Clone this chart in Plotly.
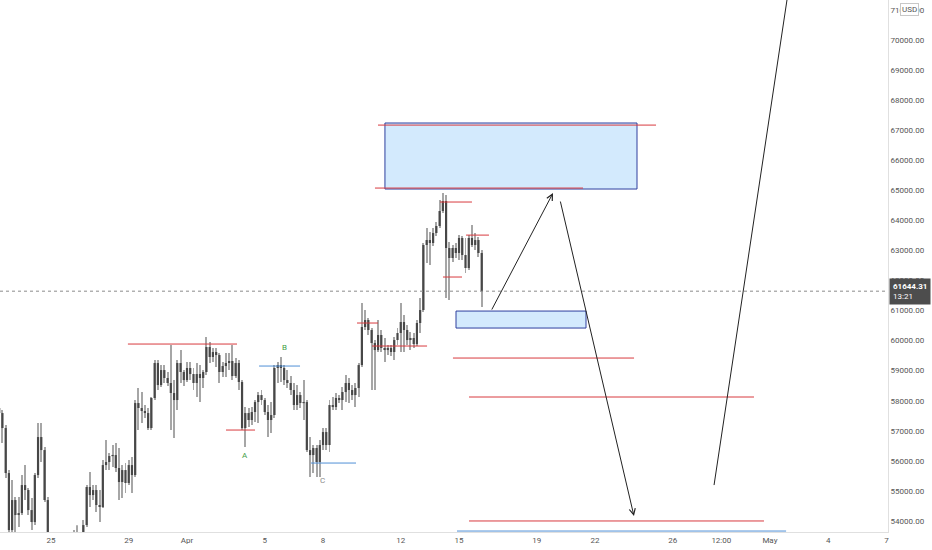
import plotly.graph_objects as go
import pandas as pd

# ---- 4h candles, BTCUSD, from 2021-03-22 08:00 ----
start_time = "2021-03-22 08:00"
opens = [57757,57590,57091,55594,53698,54696,54197,54263,55195,55029,54363,53964,55528,56792,56359,54696,
         53032,52600,52000,51500,51000,51800,52500,52900,53200,53000,53300,
         53864,55129,54862,55029,54530,54463,55860,55960,56160,56193,55761,55295,55694,55262,55860,55528,
         57923,57757,57657,57590,57091,58090,59254,58522,59021,58755,58589,58256,58023,59254,58955,58688,
         59088,58888,58589,58888,58755,58955,59786,59454,59620,59520,58955,59154,59254,59321,58821,59254,
         58622,57091,57590,57358,57624,57956,58189,58023,57624,57358,57524,59088,59187,59088,58688,58589,
         58356,57857,58189,57923,57956,56359,56193,56426,55960,56526,56958,56526,57857,57790,58090,58023,
         58289,58589,58356,58189,58422,59187,60452,60685,60352,59919,59686,60186,59753,59686,59753,59620,
         60019,60252,60618,60352,60019,60086,59886,60585,61017,63180,63346,63246,63579,63812,64311,64644,
         63080,62747,63080,62914,63413,62847,62415,63413,63180,63346,62914]
highs = [57923,57690,57191,55694,55361,54796,54796,55528,55860,55095,54763,55594,57258,57258,56459,54796,
         53300,52900,52300,51800,52000,52700,53100,53700,53860,53500,54030,
         55195,55628,55195,55195,55029,56027,56692,56260,56526,56592,56426,55860,55927,56027,56127,58023,
         58422,58289,57857,57757,58123,59354,59354,59187,59187,58955,59853,58688,59354,59686,59021,59287,
         59287,59088,59254,59187,59021,60119,59953,59753,59753,59587,59287,59587,59587,59853,59420,59354,
         58688,57790,57757,57790,58023,58289,58356,58090,57857,57956,59187,59287,59454,59187,59021,58821,
         58589,58522,58289,58688,58023,56792,56526,56526,56692,57091,57091,58023,58123,58256,58189,58456,
         58855,58755,58522,58589,59254,61250,61017,60751,60418,60019,60685,60352,60086,59853,59853,60119,
         60418,61250,60851,60518,60285,60252,60685,61417,63246,63745,63612,63745,63945,64677,64910,64843,
         63280,63180,63246,63513,63479,63413,63513,63845,63579,63446,63013]
lows = [57524,56592,55428,53598,53598,53598,53798,54197,54696,54197,53698,53864,55428,55960,54629,52700,
        52400,51800,51200,50400,50800,51500,52200,52600,52900,52700,53100,
        53798,54463,54696,54297,53964,54430,55694,55694,55794,55628,54696,54763,54929,55195,54929,55461,
        57025,57258,57424,57025,57025,58023,58356,58456,58589,58489,57025,56758,57690,58589,58489,58622,
        58688,58356,58123,57956,58422,58855,59254,59287,59121,58589,58788,58788,59021,58688,58755,58356,
        57025,56459,57125,57191,57291,57258,57857,57524,56792,56925,57424,58589,58622,58522,58422,58189,
        57690,57690,57757,57358,56293,55461,55594,55461,55461,56359,56359,56293,57690,57690,57923,57690,
        57956,57923,58023,57790,58123,59121,60352,60186,58356,58356,59620,59620,59287,59520,59487,59354,
        59853,59620,59620,59853,59686,59753,59820,60252,60951,62581,62514,63147,63479,63745,64244,61417,
        61350,62614,62747,62681,62681,62248,62348,63113,63013,62781,61117]
closes = [57590,57091,55594,53698,54696,54197,54263,55195,55029,54363,53964,55528,56792,56359,54696,53032,
          52600,52000,51500,51000,51800,52500,52900,53200,53000,53300,53864,
          55129,54862,55029,54530,54463,55860,55960,56160,56193,55761,55295,55694,55262,55860,55528,57923,
          57757,57657,57590,57091,58090,59254,58522,59021,58755,58589,58256,58023,59254,58955,58688,59088,
          58888,58589,58888,58755,58955,59786,59454,59620,59520,58955,59154,59254,59321,58821,59254,58622,
          57091,57590,57358,57624,57956,58189,58023,57624,57358,57524,59088,59187,59088,58688,58589,58356,
          57857,58189,57923,57956,56359,56193,56426,55960,56526,56958,56526,57857,57790,58090,58023,58289,
          58589,58356,58189,58422,59187,60452,60685,60352,59919,59686,60186,59753,59686,59753,59620,60019,
          60252,60618,60352,60019,60086,59886,60585,61017,63180,63346,63246,63579,63812,64311,64644,63080,
          62747,63080,62914,63413,62847,62415,63413,63180,63346,62914,61644.31]

last_price = 61644.31
countdown = "13:21"

# axis ticks
x_tickvals = ["2021-03-25", "2021-03-29", "2021-04-01", "2021-04-05", "2021-04-08", "2021-04-12",
              "2021-04-15", "2021-04-19", "2021-04-22", "2021-04-26", "2021-04-28 12:00", "2021-05-01",
              "2021-05-04", "2021-05-07"]
x_ticktext = ["25", "29", "Apr", "5", "8", "12", "15", "19", "22", "26", "12:00", "May", "4", "7"]
y_tickvals = list(range(54000, 72000, 1000))
y_ticktext = [f"{v:.2f}" for v in y_tickvals]

# drawings: (start, end, price)
red_lines = [("2021-03-28 23:00", "2021-04-03 13:45", 59886),
             ("2021-04-03 00:10", "2021-04-04 12:00", 57025),
             ("2021-04-09 18:00", "2021-04-10 19:55", 60585),
             ("2021-04-10 12:30", "2021-04-13 08:30", 59820),
             ("2021-04-14 00:30", "2021-04-15 16:00", 64610),
             ("2021-04-14 04:10", "2021-04-15 03:40", 62115),
             ("2021-04-15 08:40", "2021-04-16 13:00", 63510),
             ("2021-04-10 19:55", "2021-04-25 03:20", 67170),
             ("2021-04-10 16:10", "2021-04-21 09:10", 65075),
             ("2021-04-14 16:30", "2021-04-24 00:10", 59420),
             ("2021-04-15 12:20", "2021-04-30 04:20", 58124),
             ("2021-04-15 12:20", "2021-04-30 16:40", 54000)]
blue_lines = [("2021-04-04 17:00", "2021-04-06 19:35", 59154),
              ("2021-04-07 09:10", "2021-04-09 16:45", 55927),
              ("2021-04-14 21:30", "2021-05-01 20:00", 53665)]
# rectangles: (start, end, low, high)
zones = [("2021-04-11 04:30", "2021-04-24 03:50", 65043, 67239),
         ("2021-04-14 20:15", "2021-04-21 12:50", 60418, 60983)]
# arrows: (tail time, tail price, head time, head price)
arrows = [("2021-04-16 15:30", 60983, "2021-04-19 20:05", 64910),
          ("2021-04-20 04:45", 64677, "2021-04-24 00:05", 54164)]
final_leg = ("2021-04-28 03:00", 55195, "2021-05-01 21:05", 71331)
labels = [("2021-04-03 23:40", 56193, "A", "#43a047"),
          ("2021-04-06 01:00", 59787, "B", "#43a047"),
          ("2021-04-07 22:45", 55361, "C", "#888888")]

x_range = ["2021-03-22 09:00", "2021-05-07 01:52"]
y_range = [53633, 71331]

times = pd.date_range(start_time, periods=len(closes), freq="4h")

# wicks: thin light bars from low to high
wick_h = [h - l for h, l in zip(highs, lows)]
# bodies: dark segments from open to close
bx, by = [], []
for t, o, c in zip(times, opens, closes):
    lo, hi = min(o, c), max(o, c)
    if hi - lo < 40:
        mid = (hi + lo) / 2
        lo, hi = mid - 20, mid + 20
    bx += [t, t, None]
    by += [lo, hi, None]

fig = go.Figure()
fig.add_trace(go.Bar(
    x=times, y=wick_h, base=lows, width=4 * 3600 * 1000 * 0.3,
    marker=dict(color="#a6a6a6", line=dict(width=0)), showlegend=False, hoverinfo="skip"))
fig.add_trace(go.Scatter(
    x=bx, y=by, mode="lines", line=dict(color="#474747", width=2.2),
    showlegend=False, hoverinfo="skip", connectgaps=False))

shapes = []
for x0, x1, p in red_lines:
    shapes.append(dict(type="line", x0=x0, x1=x1, y0=p, y1=p, xref="x", yref="y",
                       line=dict(color="#d83a3f", width=1)))
for x0, x1, p in blue_lines:
    shapes.append(dict(type="line", x0=x0, x1=x1, y0=p, y1=p, xref="x", yref="y",
                       line=dict(color="#4f8fd6", width=1)))
for x0, x1, lo, hi in zones:
    shapes.append(dict(type="rect", x0=x0, x1=x1, y0=lo, y1=hi, xref="x", yref="y",
                       fillcolor="rgba(33,150,243,0.2)", line=dict(color="#2e3f9e", width=1),
                       layer="below"))
shapes.append(dict(type="line", x0=final_leg[0], y0=final_leg[1], x1=final_leg[2], y1=final_leg[3],
                   xref="x", yref="y", line=dict(color="#222222", width=1)))
shapes.append(dict(type="line", x0=0, x1=1, xref="paper", y0=last_price, y1=last_price, yref="y",
                   line=dict(color="#8a8a8a", width=1, dash="dot")))

annotations = []
for tx, tp, hx, hp in arrows:
    annotations.append(dict(x=hx, y=hp, ax=tx, ay=tp, xref="x", yref="y", axref="x", ayref="y",
                            text="", showarrow=True, arrowhead=5, arrowsize=1.2, arrowwidth=1,
                            arrowcolor="#222222", standoff=0, startstandoff=0))
for lx, lp, txt, col in labels:
    annotations.append(dict(x=lx, y=lp, text=txt, showarrow=False, xref="x", yref="y",
                            font=dict(size=8, color=col, family="Roboto")))
annotations.append(dict(x=1, y=last_price, xref="paper", yref="y", xanchor="left", yanchor="middle",
                        xshift=1, text=f"<b>{last_price:.2f}</b><br>{countdown}", showarrow=False,
                        align="left", bgcolor="#4d4d4d", borderpad=3,
                        font=dict(size=8, color="#ffffff", family="Roboto")))
annotations.append(dict(x=1, y=71000, xref="paper", yref="y", xanchor="left", yanchor="middle",
                        xshift=12, text="USD", showarrow=False, bgcolor="#ffffff",
                        bordercolor="#c8c8c8", borderwidth=1, borderpad=1,
                        font=dict(size=8, color="#555555", family="Roboto")))

fig.update_layout(
    width=932, height=550, margin=dict(l=0, r=44, t=0, b=18),
    paper_bgcolor="#ffffff", plot_bgcolor="#ffffff", showlegend=False, barmode="overlay",
    shapes=shapes, annotations=annotations,
    xaxis=dict(type="date", range=x_range, showgrid=False,
               tickvals=x_tickvals, ticktext=x_ticktext, ticks="", showline=True,
               linecolor="#e0e0e0", linewidth=1, zeroline=False,
               tickfont=dict(size=8, color="#555555", family="Roboto")),
    yaxis=dict(side="right", range=y_range, showgrid=False, tickvals=y_tickvals,
               ticktext=y_ticktext, ticks="", showline=True, linecolor="#e0e0e0", linewidth=1,
               zeroline=False, tickfont=dict(size=8, color="#555555", family="Roboto")),
    font=dict(family="Roboto"),
)

fig.write_html("out.html", config={"displayModeBar": False},
               post_script="document.body.style.margin='0px';document.body.style.overflow='hidden';")
